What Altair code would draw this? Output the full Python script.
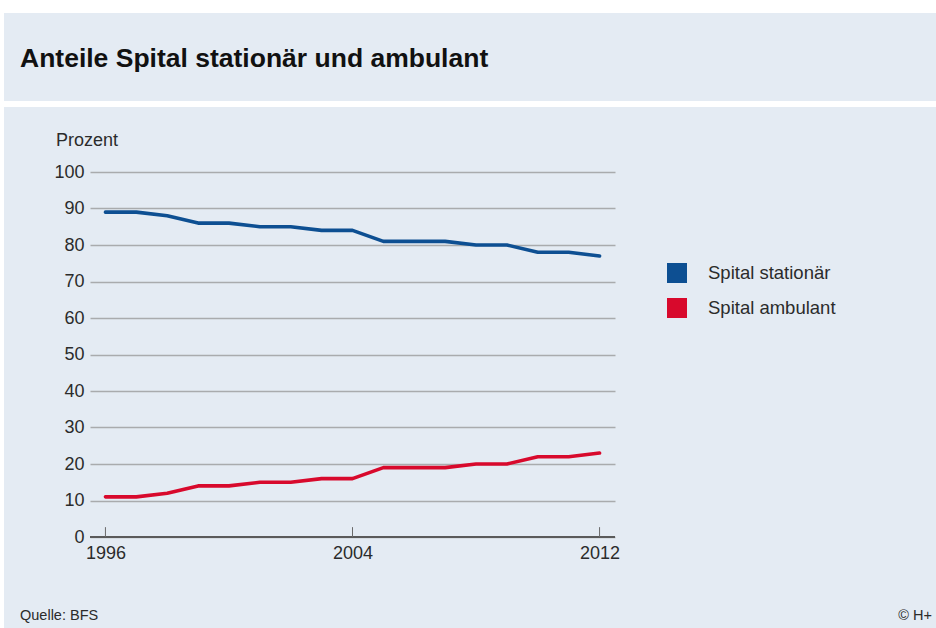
import altair as alt
import pandas as pd

# Anteile der Spitalleistungen (in Prozent)
years = list(range(1996, 2013))
stationaer = [89, 89, 88, 86, 86, 85, 85, 84, 84, 81, 81, 81, 80, 80, 78, 78, 77]
ambulant = [11, 11, 12, 14, 14, 15, 15, 16, 16, 19, 19, 19, 20, 20, 22, 22, 23]
series_names = ["Spital stationär", "Spital ambulant"]
series_colors = ["#0d4f92", "#d8092c"]
x_ticks = [1996, 2004, 2012]
y_ticks = [0, 10, 20, 30, 40, 50, 60, 70, 80, 90, 100]

FONT = "Liberation Sans"
TEXT = "#2b2b2b"
PANEL = "#e4ebf3"

W, H = 525, 365          # plot area
PAD_L, PAD_T = 90, 172   # plot origin inside the 936x628 page

df = pd.DataFrame(
    {
        "Jahr": years * 2,
        "Prozent": stationaer + ambulant,
        "Serie": [series_names[0]] * len(years) + [series_names[1]] * len(years),
    }
)

x_scale = alt.Scale(domain=[1995.5, 2012.5], nice=False, zero=False)
y_scale = alt.Scale(domain=[0, 100], nice=False)

x_axis = alt.Axis(
    values=x_ticks, format="d", title=None, grid=False, domain=False,
    ticks=False, labelPadding=7, labelFontSize=18, labelFont=FONT,
    labelColor=TEXT, labelOverlap=False, labelFlush=False,
)
y_axis = alt.Axis(
    values=y_ticks, title=None, grid=True, gridColor="#a9abad",
    gridWidth=1.5, domain=False, ticks=False, labelPadding=6,
    labelFontSize=18, labelFont=FONT, labelColor=TEXT,
    labelOverlap=False, labelFlush=False,
)

one = alt.Data(values=[{}])


def white_strip(x0, x1, y0, y1):
    # page-frame strip, given in page pixels
    return alt.Chart(one).mark_rect(color="white").encode(
        x=alt.value(x0 - PAD_L), x2=alt.value(x1 - PAD_L),
        y=alt.value(y0 - PAD_T), y2=alt.value(y1 - PAD_T),
    )


frame = [
    white_strip(0, 936, 0, 13),      # top margin
    white_strip(0, 4, 0, 628),       # left margin
    white_strip(0, 936, 101, 107),   # separator under the header
]

# legend swatches: a 10px square outlined with a 10px stroke reads as a solid 20px block
lines = alt.Chart(df).mark_line(strokeWidth=3.6, strokeJoin="round", strokeCap="round").encode(
    x=alt.X("Jahr:Q", scale=x_scale, axis=x_axis),
    y=alt.Y("Prozent:Q", scale=y_scale, axis=y_axis),
    color=alt.Color(
        "Serie:N",
        scale=alt.Scale(domain=series_names, range=series_colors),
        legend=alt.Legend(
            title=None, orient="none", legendX=577, legendY=91,
            symbolType="square", symbolSize=100, symbolStrokeWidth=10,
            symbolOpacity=1, labelFontSize=18.5, labelFont=FONT,
            labelColor=TEXT, rowPadding=-21, labelOffset=21, padding=0,
        ),
    ),
    order="Jahr:Q",
)

base_df = pd.DataFrame({"y": [0]})
baseline = alt.Chart(base_df).mark_rule(color="#5a5a5a", strokeWidth=2.2).encode(
    y=alt.Y("y:Q", scale=y_scale, axis=y_axis), x=alt.value(0), x2=alt.value(W)
)

tick_df = pd.DataFrame({"Jahr": x_ticks, "y0": [0] * 3, "y1": [2.7] * 3})
ticks = alt.Chart(tick_df).mark_rule(color="#6a6a6a", strokeWidth=1).encode(
    x=alt.X("Jahr:Q", scale=x_scale, axis=x_axis),
    y=alt.Y("y0:Q", scale=y_scale, axis=y_axis),
    y2="y1:Q",
)


def label(text, x, y, size, weight="normal", align="left", baseline="middle"):
    return alt.Chart(one).mark_text(
        text=text, font=FONT, fontSize=size, fontWeight=weight,
        color="#111" if weight == "bold" else TEXT,
        align=align, baseline=baseline,
    ).encode(x=alt.value(x - PAD_L), y=alt.value(y - PAD_T))


texts = [
    label("Anteile Spital stationär und ambulant", 20, 67, 26.5, "bold", baseline="alphabetic"),
    label("Prozent", 56, 146, 18, baseline="alphabetic"),
    label("Quelle: BFS", 20, 620, 14.5, baseline="alphabetic"),
    label("© H+", 932, 620, 14.5, align="right", baseline="alphabetic"),
]

chart = alt.layer(*frame, baseline, ticks, lines, *texts).properties(
    width=W,
    height=H,
    padding={"left": PAD_L, "top": PAD_T, "right": 936 - PAD_L - W, "bottom": 628 - PAD_T - H},
    autosize=alt.AutoSizeParams(type="none"),
    background=PANEL,
).configure_view(stroke=None, fill=None)

chart.save("out.html", embed_options={"renderer": "svg", "actions": False})
